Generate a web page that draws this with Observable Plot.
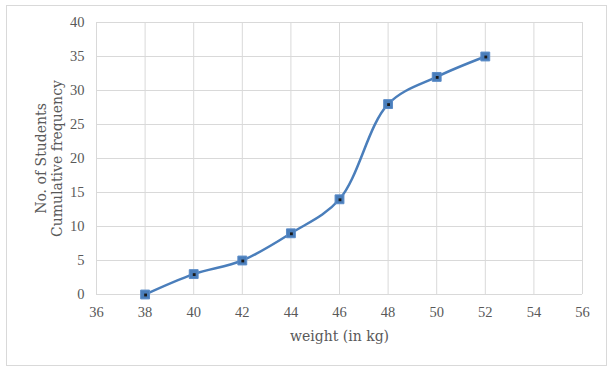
<!DOCTYPE html>
<html>
<head>
<meta charset="utf-8">
<script src="https://cdn.jsdelivr.net/npm/d3@7"></script>
<script src="https://cdn.jsdelivr.net/npm/@observablehq/plot@0.6"></script>
<style>
  body { margin: 0; background: #fff; }
  #wrap { position: relative; width: 615px; height: 372px; }
  #border { position: absolute; left: 6px; top: 5px; width: 599px; height: 359px; border: 1px solid #d9d9d9; pointer-events: none; }
</style>
</head>
<body>
<div id="wrap"><div id="border"></div></div>
<script>
const weights = [38, 40, 42, 44, 46, 48, 50, 52];
const cumFreq = [0, 3, 5, 9, 14, 28, 32, 35];
const xTicks = [36, 38, 40, 42, 44, 46, 48, 50, 52, 54, 56];
const yTicks = [0, 5, 10, 15, 20, 25, 30, 35, 40];
const xTitle = "weight (in kg)";
const yTitle = "No. of Students\nCumulative frequency";

const data = weights.map((w, i) => ({ w, c: cumFreq[i] }));
const lineColor = "#4a7ebb";
const tickFont = "'Liberation Serif', serif";
const titleFont = "'DejaVu Serif', serif";

const chart = Plot.plot({
  width: 615,
  height: 372,
  marginLeft: 96,
  marginRight: 33,
  marginTop: 22,
  marginBottom: 78,
  style: { fontFamily: tickFont, fontSize: "14.5px", color: "#595959", background: "transparent" },
  x: { domain: [36, 56], ticks: xTicks },
  y: { domain: [0, 40], ticks: yTicks },
  marks: [
    Plot.gridX(xTicks, { stroke: "#d9d9d9", strokeOpacity: 1, strokeWidth: 1 }),
    Plot.gridY(yTicks, { stroke: "#d9d9d9", strokeOpacity: 1, strokeWidth: 1 }),
    Plot.axisX(xTicks, { tickSize: 0, tickPadding: 12, label: null, fill: "#595959", fontSize: 14.5 }),
    Plot.axisY(yTicks, { tickSize: 0, tickPadding: 12, label: null, fill: "#595959", fontSize: 14.5 }),
    Plot.line(data, { x: "w", y: "c", curve: "catmull-rom", stroke: lineColor, strokeWidth: 2.5 }),
    Plot.dot(data, { x: "w", y: "c", symbol: "square", r: 5, fill: lineColor, stroke: "#5b8cc8", strokeWidth: 1 }),
    Plot.dot(data, { x: "w", y: "c", symbol: "square", r: 1.6, fill: "#1a1a1a", dx: 0.5, dy: 0.5 }),
    Plot.text([xTitle], { frameAnchor: "bottom", dy: 46, text: d => d, fontSize: 14, fontFamily: titleFont, fill: "#595959" }),
    Plot.text([yTitle], { frameAnchor: "left", textAnchor: "middle", dx: -48, rotate: -90, text: d => d, fontSize: 14, fontFamily: titleFont, fill: "#595959", lineHeight: 1.15, lineAnchor: "middle" })
  ]
});
document.getElementById("wrap").appendChild(chart);
chart.style.position = "absolute";
chart.style.left = "0";
chart.style.top = "0";
</script>
</body>
</html>
